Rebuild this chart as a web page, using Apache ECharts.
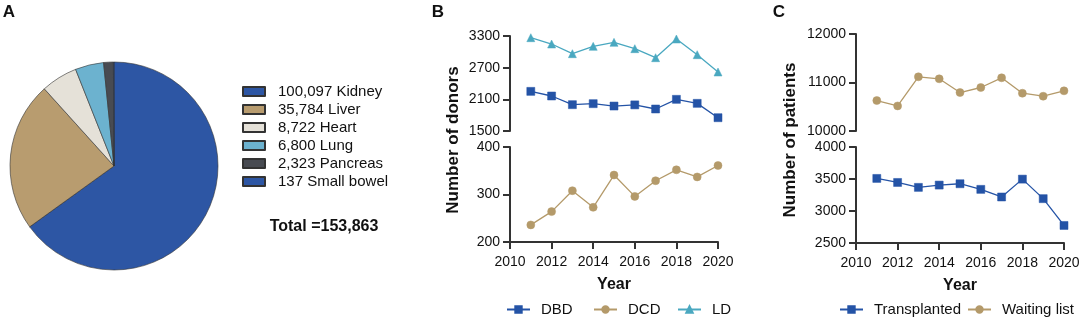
<!DOCTYPE html>
<html>
<head>
<meta charset="utf-8">
<script src="https://cdn.jsdelivr.net/npm/echarts@6/dist/echarts.min.js"></script>
<style>
  html, body { margin: 0; padding: 0; background: #fff; }
  #chart { width: 1084px; height: 320px; }
</style>
</head>
<body>
<div id="chart"></div>
<script>
// organ donations (panel A)
const organNames = ['Kidney', 'Liver', 'Heart', 'Lung', 'Pancreas', 'Small bowel'];
const organCounts = [100097, 35784, 8722, 6800, 2323, 137];
const organColors = ['#2d56a4', '#b89c6f', '#e5e1d8', '#6cb2cf', '#484b52', '#2d56a4'];

// donors by type (panel B)
const years = [2011, 2012, 2013, 2014, 2015, 2016, 2017, 2018, 2019, 2020];
const dbd = [2251, 2163, 1999, 2018, 1973, 1995, 1917, 2100, 2024, 1752];
const dcd = [236, 264, 308, 273, 341, 296, 329, 352, 337, 361];
const ld = [3268, 3148, 2965, 3104, 3180, 3060, 2889, 3243, 2946, 2618];

// patients (panel C)
const transplanted = [3509, 3446, 3369, 3405, 3426, 3338, 3219, 3498, 3193, 2774];
const waitingList = [10628, 10517, 11117, 11076, 10793, 10897, 11097, 10779, 10717, 10828];

const donorTicksTop = [1500, 2100, 2700, 3300];

const FONT = '"Liberation Sans", Arial, sans-serif';
const BLUE = '#2453a6';
const TAN = '#b49a6a';
const TEAL = '#4aa8c0';
const AXIS = '#333';

const pair = arr => years.map((y, i) => [y, arr[i]]);
const fmt = n => n.toLocaleString('en-US');
const total = organCounts.reduce((a, b) => a + b, 0);

function xAxis(gridIndex, shown) {
  return {
    type: 'value', gridIndex, min: 2010, max: 2020, interval: 2,
    show: shown,
    name: shown ? 'Year' : '',
    nameLocation: 'middle', nameGap: 35,
    nameTextStyle: { fontFamily: FONT, fontSize: 16, fontWeight: 'bold', color: '#111' },
    axisLine: { lineStyle: { color: AXIS, width: 2 } },
    axisTick: { length: 7, lineStyle: { color: AXIS, width: 2 } },
    axisLabel: { color: '#111', fontSize: 14, fontFamily: FONT, margin: 13, formatter: v => String(v) },
    splitLine: { show: false }
  };
}

function yAxis(gridIndex, min, max, interval, custom) {
  const ax = {
    type: 'value', gridIndex, min, max, interval,
    axisLine: { show: true, lineStyle: { color: AXIS, width: 2 } },
    axisTick: { show: true, length: 7, lineStyle: { color: AXIS, width: 2 } },
    axisLabel: { color: '#111', fontSize: 14, fontFamily: FONT, margin: 10, formatter: v => String(v) },
    splitLine: { show: false }
  };
  if (custom) {
    ax.axisTick.customValues = custom;
    ax.axisLabel.customValues = custom;
  }
  return ax;
}

function lineSeries(name, data, idx, color, symbol) {
  return {
    name, type: 'line', xAxisIndex: idx, yAxisIndex: idx,
    data: pair(data), symbol, symbolSize: 8,
    lineStyle: { color, width: 1.3 },
    itemStyle: { color, borderColor: color, borderWidth: 0.5 },
    emphasis: { disabled: true }
  };
}

function oneLegend(name, left, top) {
  return {
    data: [name], left, top, padding: 0,
    itemWidth: 23, itemHeight: 8,
    textStyle: { fontFamily: FONT, fontSize: 15, color: '#111', padding: [0, 0, 0, 6] }
  };
}

const chart = echarts.init(document.getElementById('chart'), null, { renderer: 'canvas' });

const option = {
  animation: false,
  textStyle: { fontFamily: FONT },
  grid: [
    { left: 510, top: 36, width: 208, height: 95 },
    { left: 510, top: 147, width: 208, height: 95 },
    { left: 856, top: 34, width: 208, height: 97 },
    { left: 856, top: 147, width: 208, height: 96 }
  ],
  xAxis: [xAxis(0, false), xAxis(1, true), xAxis(2, false), xAxis(3, true)],
  yAxis: [
    yAxis(0, 1500, 3300, 600, donorTicksTop),
    yAxis(1, 200, 400, 100),
    yAxis(2, 10000, 12000, 1000),
    yAxis(3, 2500, 4000, 500)
  ],
  legend: [
    {
      data: organNames, orient: 'vertical', left: 242, top: 84, padding: 0,
      icon: 'rect', itemWidth: 22, itemHeight: 9, itemGap: 3,
      formatter: name => fmt(organCounts[organNames.indexOf(name)]) + ' ' + name,
      textStyle: { fontFamily: FONT, fontSize: 15, color: '#111', padding: [0, 0, 0, 8] }
    },
    oneLegend('DBD', 506, 302),
    oneLegend('DCD', 593, 302),
    oneLegend('LD', 677, 302),
    oneLegend('Transplanted', 839, 302),
    oneLegend('Waiting list', 967, 302)
  ],
  series: [
    {
      type: 'pie', center: [114, 166], radius: 104, startAngle: 90, clockwise: true,
      label: { show: false }, labelLine: { show: false },
      emphasis: { disabled: true },
      itemStyle: { borderColor: '#333', borderWidth: 0.6 },
      data: organNames.map((n, i) => ({ name: n, value: organCounts[i], itemStyle: { color: organColors[i] } }))
    },
    lineSeries('DBD', dbd, 0, BLUE, 'rect'),
    lineSeries('LD', ld, 0, TEAL, 'triangle'),
    lineSeries('DCD', dcd, 1, TAN, 'circle'),
    lineSeries('Waiting list', waitingList, 2, TAN, 'circle'),
    lineSeries('Transplanted', transplanted, 3, BLUE, 'rect')
  ],
  graphic: [
    { type: 'text', x: 9, y: 12, style: { text: 'A', font: 'bold 17px ' + FONT, fill: '#111', textAlign: 'center', textVerticalAlign: 'middle' } },
    { type: 'text', x: 438, y: 12, style: { text: 'B', font: 'bold 17px ' + FONT, fill: '#111', textAlign: 'center', textVerticalAlign: 'middle' } },
    { type: 'text', x: 779, y: 12, style: { text: 'C', font: 'bold 17px ' + FONT, fill: '#111', textAlign: 'center', textVerticalAlign: 'middle' } },
    { type: 'text', x: 324, y: 227, style: { text: 'Total =' + fmt(total), font: 'bold 16px ' + FONT, fill: '#111', textAlign: 'center', textVerticalAlign: 'middle' } },
    { type: 'text', x: 453, y: 140, rotation: Math.PI / 2, style: { text: 'Number of donors', font: 'bold 17px ' + FONT, fill: '#111', textAlign: 'center', textVerticalAlign: 'middle' } },
    { type: 'text', x: 790, y: 140, rotation: Math.PI / 2, style: { text: 'Number of patients', font: 'bold 17px ' + FONT, fill: '#111', textAlign: 'center', textVerticalAlign: 'middle' } }
  ]
};

chart.setOption(option);
window.addEventListener('resize', () => chart.resize());
</script>
</body>
</html>
